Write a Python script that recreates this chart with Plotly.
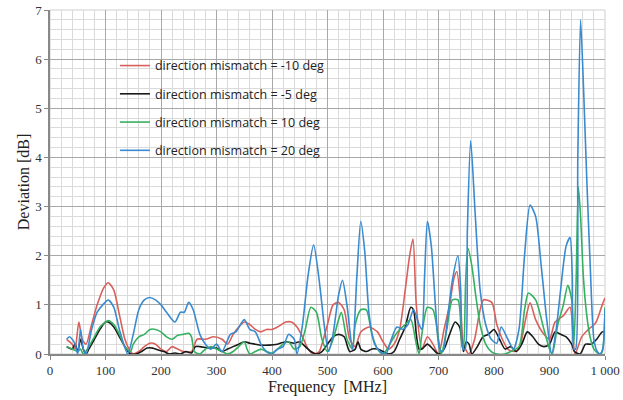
import plotly.graph_objects as go

# ---- data ----
f_red = [30,40,45,52,58,65,75,85,97,105,115,125,135,145,150,160,170,180,190,200,210,220,230,240,255,265,280,295,310,320,330,340,350,360,370,380,390,400,410,425,435,445,455,465,475,485,490,500,510,520,530,540,550,560,575,590,600,610,620,630,640,648,654,660,670,680,690,700,710,720,728,733,740,745,755,765,781,796,805,815,825,835,845,855,865,875,890,900,910,925,937,946,958,970,983,995,1000]
v_red = [0.3,0.2,0.1,0.65,0.3,0.2,0.6,1.0,1.35,1.45,1.3,0.8,0.3,0.05,0.0,0.05,0.15,0.22,0.2,0.1,0.05,0.15,0.1,0.05,0.05,0.3,0.3,0.35,0.3,0.2,0.4,0.55,0.65,0.6,0.5,0.45,0.5,0.5,0.55,0.65,0.65,0.55,0.35,0.1,0.0,0.05,0.2,0.6,1.0,1.05,0.9,0.3,0.15,0.45,0.55,0.45,0.25,0.1,0.2,0.5,1.3,2.0,2.34,1.0,0.1,0.35,0.2,0.0,0.5,1.0,1.55,1.68,1.0,0.2,0.0,0.3,1.1,1.05,0.6,0.3,0.1,0.05,0.1,0.6,1.04,0.7,0.4,0.3,0.65,0.78,0.95,0.0,0.35,0.5,0.63,1.0,1.14]

f_blk = [30,40,45,50,55,60,65,70,80,90,100,105,115,125,135,145,155,165,175,185,195,205,215,225,235,245,255,262,270,285,300,310,320,330,340,350,360,370,380,395,410,425,440,450,460,470,480,490,500,510,520,530,540,550,555,560,570,580,590,600,610,620,630,640,650,655,660,665,670,680,690,700,710,720,730,738,745,750,755,760,770,780,790,800,810,820,830,840,850,860,870,880,890,900,910,920,930,940,945,955,965,975,985,995,1000]
v_blk = [0.15,0.1,0.2,0.05,0.3,0.1,0.0,0.1,0.3,0.5,0.65,0.65,0.55,0.35,0.15,0.0,0.0,0.05,0.12,0.12,0.08,0.05,0.0,0.02,0.0,0.05,0.02,0.15,0.15,0.12,0.12,0.05,0.1,0.15,0.2,0.25,0.22,0.2,0.18,0.18,0.2,0.25,0.22,0.25,0.15,0.05,0.0,0.05,0.2,0.35,0.4,0.35,0.05,0.1,0.25,0.1,0.05,0.1,0.1,0.05,0.0,0.05,0.3,0.55,0.95,0.9,0.4,0.1,0.1,0.2,0.1,0.0,0.1,0.4,0.65,0.55,0.05,0.25,0.2,0.0,0.15,0.35,0.4,0.5,0.3,0.1,0.15,0.05,0.2,0.45,0.35,0.2,0.15,0.2,0.45,0.4,0.35,0.2,0.05,0.0,0.2,0.2,0.3,0.45,0.45]

f_grn = [30,40,50,55,60,70,80,90,100,105,115,125,135,145,150,160,170,180,190,200,210,220,230,240,250,255,260,270,280,290,300,310,320,330,340,350,355,360,370,380,390,400,410,420,430,440,450,460,470,480,490,500,510,520,525,535,545,550,560,570,580,590,600,610,620,630,640,650,660,665,670,680,690,700,705,715,725,735,742,745,749,753,760,767,775,785,795,805,820,830,845,855,862,875,890,900,905,915,925,933,940,944,948,952,956,961,967,973,980,990,995,1000]
v_grn = [0.15,0.1,0.05,0.1,0.0,0.15,0.35,0.55,0.65,0.68,0.6,0.4,0.15,0.05,0.2,0.35,0.4,0.5,0.5,0.45,0.35,0.3,0.38,0.4,0.42,0.35,0.05,0.0,0.1,0.15,0.1,0.05,0.0,0.05,0.15,0.25,0.1,0.0,0.05,0.1,0.05,0.02,0.1,0.2,0.25,0.1,0.15,0.5,0.95,0.85,0.3,0.05,0.3,0.7,0.85,0.3,0.1,0.6,0.9,0.9,0.4,0.1,0.0,0.15,0.35,0.5,0.6,0.7,0.2,0.0,0.4,0.95,0.9,0.3,0.0,0.5,1.1,1.1,0.2,0.1,1.5,2.15,1.8,1.2,0.6,0.2,0.05,0.0,0.0,0.05,0.15,0.9,1.24,1.1,0.5,0.1,0.0,0.6,1.0,1.4,1.1,0.2,1.5,3.4,2.8,1.57,0.8,0.35,0.1,0.0,0.05,0.95]

f_blu = [30,35,40,45,50,55,60,65,75,85,95,105,115,125,140,150,160,170,180,190,200,210,225,235,242,250,258,270,280,290,300,310,325,335,350,360,370,380,390,400,410,420,430,440,445,455,465,475,485,495,502,510,520,527,535,545,553,560,567,575,585,595,605,615,625,635,645,655,665,670,675,680,687,695,702,708,715,725,735,740,744,748,752,758,766,775,785,795,805,813,825,835,845,855,865,875,885,895,904,912,920,930,937,941,944,947,951,956,962,967,973,980,986,991,996,1000]
v_blu = [0.3,0.35,0.3,0.2,0.0,0.5,0.1,0.0,0.5,0.85,1.0,1.1,0.95,0.5,0.0,0.4,0.9,1.1,1.15,1.1,1.0,0.85,0.65,0.85,0.85,1.05,0.9,0.4,0.2,0.1,0.2,0.05,0.4,0.45,0.7,0.5,0.45,0.2,0.05,0.0,0.1,0.15,0.4,0.3,0.0,0.6,1.6,2.22,1.5,0.5,0.05,0.4,1.2,1.5,1.0,0.1,1.6,2.7,2.1,0.8,0.2,0.05,0.0,0.3,0.55,0.5,0.6,0.9,0.6,0.5,1.6,2.7,2.2,0.9,0.1,0.05,0.6,1.5,2.0,1.3,0.1,0.1,2.5,4.34,2.87,1.3,0.6,0.3,0.22,0.55,0.3,0.1,0.5,2.0,3.03,2.8,1.8,0.7,0.0,0.5,1.3,2.2,2.37,1.6,0.1,0.1,4.0,6.8,5.2,3.6,1.9,0.3,0.05,0.0,0.1,0.9]

names = ["direction mismatch = -10 deg", "direction mismatch = -5 deg",
         "direction mismatch = 10 deg", "direction mismatch = 20 deg"]
colors = ["#d9605a", "#1a1a1a", "#35b060", "#3a8ad0"]

x_ticks = [0, 100, 200, 300, 400, 500, 600, 700, 800, 900, 1000]
x_labels = ["0", "100", "200", "300", "400", "500", "600", "700", "800", "900", "1 000"]
y_ticks = [0, 1, 2, 3, 4, 5, 6, 7]

fig = go.Figure()
series = [(f_red, v_red), (f_blk, v_blk), (f_grn, v_grn), (f_blu, v_blu)]
for i, (fx, vy) in enumerate(series):
    fig.add_trace(go.Scatter(x=fx, y=vy, mode="lines", name=names[i],
                             legendgroup=str(i),
                             line=dict(color=colors[i], width=1.6, shape="spline", smoothing=0.7)))

serif = "Liberation Serif, Times New Roman, serif"
fig.update_layout(
    width=623, height=400,
    margin=dict(l=50, r=18, t=10, b=46),
    paper_bgcolor="white", plot_bgcolor="white",
    showlegend=True,
    legend=dict(x=0.117, y=0.881, xanchor="left", yanchor="top",
                bgcolor="rgba(255,255,255,0)", tracegroupgap=9,
                font=dict(family="Open Sans, sans-serif", size=12.5, color="#222"),
                itemwidth=30),
    xaxis=dict(range=[0, 1000], tickvals=x_ticks, ticktext=x_labels,
               automargin=False,
               showgrid=True, gridcolor="#a8a8a8", gridwidth=1,
               minor=dict(dtick=20, showgrid=True, gridcolor="#dadada", gridwidth=1),
               showline=True, linecolor="#888", linewidth=1.5,
               ticks="outside", ticklen=4, tickcolor="#888",
               tickfont=dict(family=serif, size=13, color="#333"),
               title=dict(text="Frequency  [MHz]", font=dict(family=serif, size=16, color="#222"), standoff=0),
               zeroline=False, mirror=False),
    yaxis=dict(range=[0, 7], tickvals=y_ticks,
               automargin=False,
               showgrid=True, gridcolor="#a8a8a8", gridwidth=1,
               minor=dict(dtick=0.2, showgrid=True, gridcolor="#dadada", gridwidth=1),
               showline=True, linecolor="#888", linewidth=1.5,
               ticks="outside", ticklen=4, tickcolor="#888",
               tickfont=dict(family=serif, size=13, color="#333"),
               title=dict(text="Deviation [dB]", font=dict(family=serif, size=16, color="#222"), standoff=2),
               zeroline=False),
)
fig.add_shape(type="rect", xref="paper", yref="paper", x0=0, y0=0, x1=1, y1=1,
              line=dict(color="#cfcfcf", width=1), layer="below")

# remove the browser's default 8px body margin so the 623x400 figure fills the window
fig.write_html("out.html", config={"displayModeBar": False},
               post_script="document.body.style.margin='0px';")
